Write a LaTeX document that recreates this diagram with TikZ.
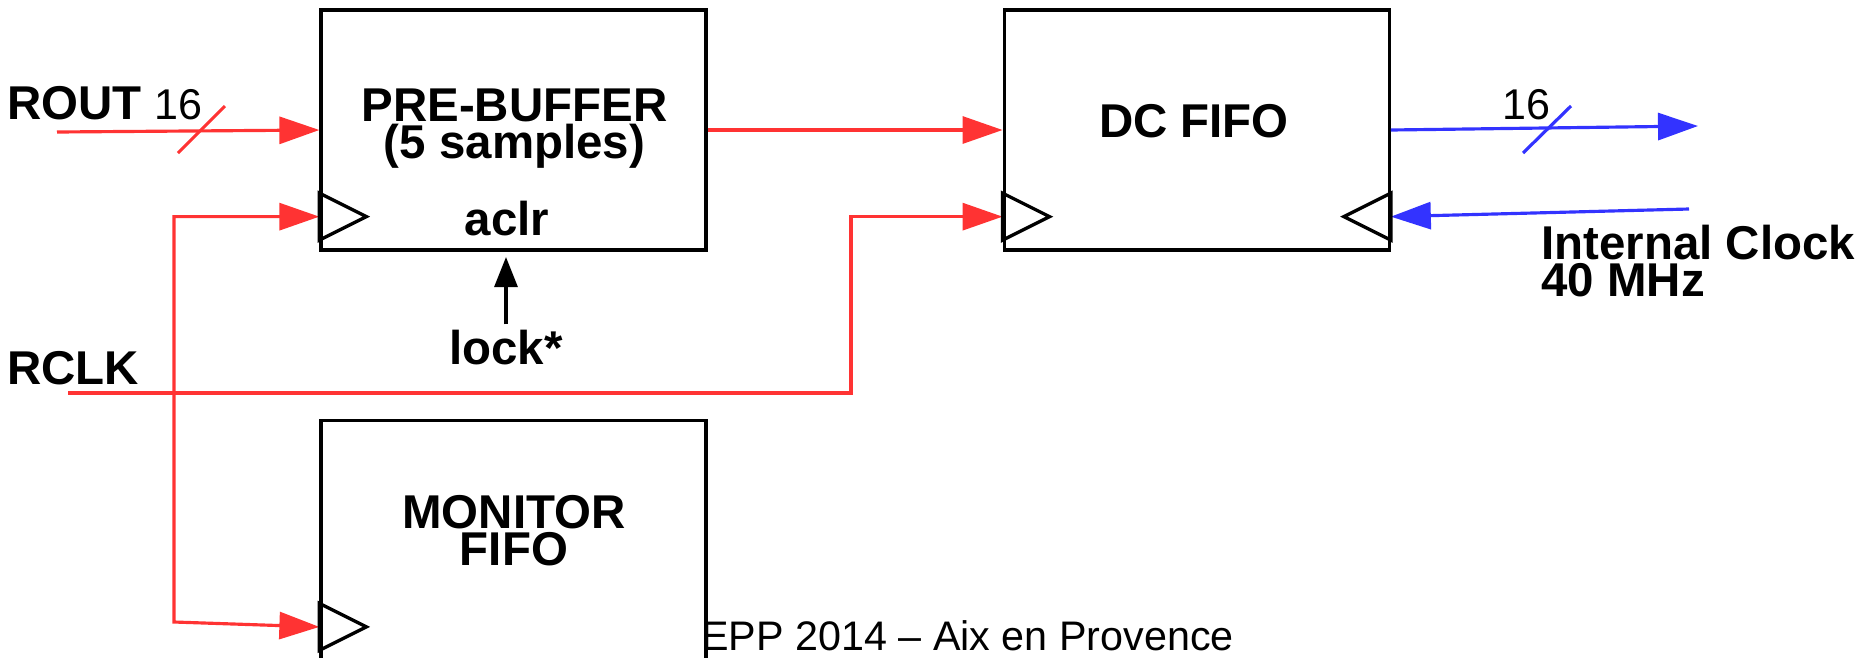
\documentclass[tikz,border=0pt]{standalone}
\usepackage{fontspec}
\setmainfont{Liberation Sans}
\usetikzlibrary{arrows.meta,positioning}
\definecolor{sigred}{RGB}{255,51,51}
\definecolor{sigblue}{RGB}{51,51,255}

\begin{document}
\begin{tikzpicture}[
    x=0.02cm, y=-0.02cm,
    block/.style={draw, line width=1.9pt, minimum width=7.7cm, minimum height=4.8cm, inner sep=0pt},
    blocktitle/.style={font=\bfseries\fontsize{27}{21}\selectfont, align=center, inner sep=0pt},
    sigtext/.style={font=\bfseries\fontsize{27}{21}\selectfont, inner sep=0pt},
    note/.style={font=\fontsize{24.5}{28}\selectfont, inner sep=0pt},
    footnote/.style={font=\fontsize{23.5}{28}\selectfont, inner sep=0pt},
    port/.style={draw, line width=1.9pt},
    rwire/.style={sigred, line width=1.8pt},
    rflow/.style={rwire, -{Triangle[length=0.8cm, width=0.54cm]}},
    bflow/.style={sigblue, line width=1.8pt, -{Triangle[length=0.8cm, width=0.54cm]}},
    cflow/.style={line width=1.8pt, -{Triangle[length=0.6cm, width=0.46cm]}}
]
\useasboundingbox (0,0) rectangle (1874,657);

% footer, partly behind the monitor block
\node[footnote, anchor=base west] (footer) at (701,650) {EPP 2014 -- Aix en Provence};

% blocks
\node[block] (prebuf) at (513.5,130) {};
\node[block, right=5.9cm of prebuf] (dcfifo) {};
\node[block, below=3.34cm of prebuf] (monfifo) {};
\node[blocktitle] (pbtitle) at (514.5,129) {PRE-BUFFER\\(5 samples)};
\node[blocktitle] (dctitle) at (1194,121) {DC FIFO};
\node[blocktitle] (montitle) at (514,531) {MONITOR\\FIFO};
\node[sigtext, anchor=base] (aclr) at (507,235) {aclr};

% signal labels
\node[sigtext, anchor=base west] (rout) at (7,119) {ROUT};
\node[note, anchor=base west] (routw) at (154,119) {16};
\node[sigtext, anchor=base west] (rclk) at (7,384) {RCLK};
\node[sigtext, anchor=base] (lock) at (506,364) {lock*};
\node[note, anchor=base west] (doutw) at (1502,119) {16};
\node[sigtext, anchor=west, align=left] (intclk) at (1541,261) {Internal Clock\\40 MHz};

% free ends and clock ports
\coordinate (routin) at (57,132);
\coordinate (dout) at (1698,126);
\coordinate (intclkin) at (1689,209);
\coordinate (rclkin) at (68,393);
\coordinate (rclkbend) at (851,393);
\coordinate (rtap) at (174,622);
\coordinate (aclrin) at (506,257);
\coordinate (pbclk) at ([yshift=0.7cm]prebuf.south west);
\coordinate (dcclk) at ([yshift=0.7cm]dcfifo.south west);
\coordinate (dcrclk) at ([yshift=0.7cm]dcfifo.south east);
\coordinate (monclk) at ([yshift=0.7cm]monfifo.south west);

% connectors
\draw[rflow] (routin) -- (prebuf.west);
\draw[rwire] (178,153) -- (225,106);
\draw[rflow] (prebuf.east) -- (dcfifo.west);
\draw[bflow] (dcfifo.east) -- (dout);
\draw[sigblue, line width=1.8pt] (1523,153) -- (1571,106);
\draw[bflow] (intclkin) -- (dcrclk);
\draw[rflow] (rclkin) -- (rclkbend) |- (dcclk);
\draw[rwire, {Triangle[length=0.8cm, width=0.54cm]}-{Triangle[length=0.8cm, width=0.54cm]}] (pbclk) -| (rtap) -- (monclk);
\draw[cflow] ([yshift=0.1cm]lock.north) -- (aclrin);

% clock inputs
\foreach \p/\d in {pbclk/1, dcclk/1, monclk/1, dcrclk/-1}
  \draw[port] ([yshift=0.47cm]\p) -- ([xshift=\d*0.94cm]\p) -- ([yshift=-0.47cm]\p) -- cycle;
\end{tikzpicture}
\end{document}
